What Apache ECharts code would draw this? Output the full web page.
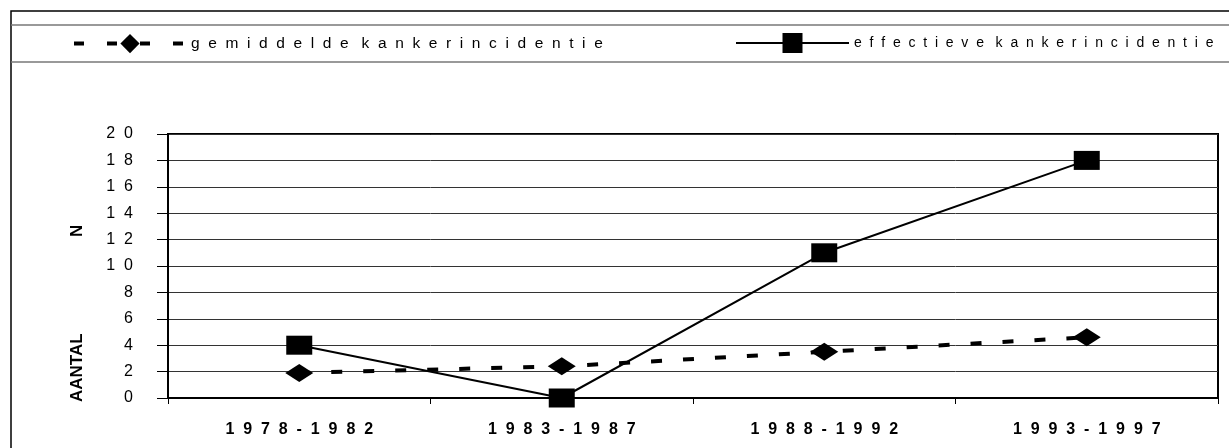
<!DOCTYPE html>
<html>
<head>
<meta charset="utf-8">
<script src="https://cdn.jsdelivr.net/npm/echarts@6/dist/echarts.min.js"></script>
<style>
  html, body { margin: 0; padding: 0; background: #fff; }
  #chart { width: 1229px; height: 448px; }
</style>
</head>
<body>
<div id="chart"></div>
<script>
// periods on the x axis
const periods = ['1978-1982', '1983-1987', '1988-1992', '1993-1997'];
// average (expected) cancer incidence, dashed line with diamonds
const gemiddelde = [1.9, 2.4, 3.5, 4.6];
// observed cancer incidence, solid line with squares
const effectieve = [4, 0, 11, 18];
const yTicks = { min: 0, max: 20, interval: 2 };

const nameGem = 'gemiddelde kankerincidentie';
const nameEff = 'effectieve kankerincidentie';

// the original has wide letter spacing everywhere
const spaced = (s) => String(s).split(' ').map(w => w.split('').join('  ')).join('   ');
const spacedNum = (s) => String(s).split('').join('  ');

const chart = echarts.init(document.getElementById('chart'));

chart.setOption({
    animation: false,
    backgroundColor: '#fff',
    textStyle: { fontFamily: 'Liberation Sans, Arial, sans-serif', color: '#000' },
    graphic: [
        { type: 'rect', shape: { x: 11, y: 11, width: 1240, height: 460 },
          style: { fill: 'none', stroke: '#000', lineWidth: 1.5 } },
        { type: 'line', shape: { x1: 11, y1: 25, x2: 1229, y2: 25 },
          style: { stroke: '#777', lineWidth: 1.5 } },
        { type: 'line', shape: { x1: 11, y1: 62, x2: 1229, y2: 62 },
          style: { stroke: '#777', lineWidth: 1.5 } },
        { type: 'text', x: 77, y: 402, rotation: Math.PI / 2,
          style: { text: 'AANTAL', font: 'bold 17px Liberation Sans', fill: '#000',
                   align: 'left', verticalAlign: 'middle' } },
        { type: 'text', x: 77, y: 237, rotation: Math.PI / 2,
          style: { text: 'N', font: 'bold 17px Liberation Sans', fill: '#000',
                   align: 'left', verticalAlign: 'middle' } }
    ],
    legend: [
        {
            data: [nameGem], left: 72, top: 34, padding: 0,
            itemWidth: 112, itemHeight: 24, itemGap: 0,
            formatter: spaced,
            lineStyle: { width: 4, type: [10, 23] },
            textStyle: { fontSize: 15.5, color: '#000' }
        },
        {
            data: [nameEff], left: 735, top: 33, padding: 0,
            itemWidth: 113, itemHeight: 25, itemGap: 0,
            formatter: spaced,
            lineStyle: { width: 2 },
            textStyle: { fontSize: 14, color: '#000' }
        }
    ],
    grid: {
        left: 168, right: 11, top: 134, bottom: 50,
        show: true, borderColor: '#000', borderWidth: 2, backgroundColor: 'transparent'
    },
    xAxis: {
        type: 'category',
        data: periods,
        boundaryGap: true,
        axisLine: { lineStyle: { color: '#000', width: 2 } },
        axisTick: { show: true, length: 6, lineStyle: { color: '#000' } },
        axisLabel: {
            margin: 24, fontSize: 16, fontWeight: 'bold', color: '#000',
            formatter: (v) => spacedNum(v)
        }
    },
    yAxis: {
        type: 'value',
        min: yTicks.min, max: yTicks.max, interval: yTicks.interval,
        axisLine: { show: true, lineStyle: { color: '#000', width: 2 } },
        axisTick: { show: true, length: 11, lineStyle: { color: '#000' } },
        axisLabel: { margin: 35, fontSize: 16, color: '#000',
                     formatter: (v) => spacedNum(v) },
        splitLine: { lineStyle: { color: '#333', width: 1 } }
    },
    series: [
        {
            name: nameGem, type: 'line', data: gemiddelde,
            symbol: 'diamond', symbolSize: [28, 18],
            itemStyle: { color: '#000' },
            lineStyle: { color: '#000', width: 4, type: [11, 21] },
            z: 3
        },
        {
            name: nameEff, type: 'line', data: effectieve,
            symbol: 'rect', symbolSize: [26, 19],
            itemStyle: { color: '#000' },
            lineStyle: { color: '#000', width: 2 },
            z: 4
        }
    ]
});
</script>
</body>
</html>
